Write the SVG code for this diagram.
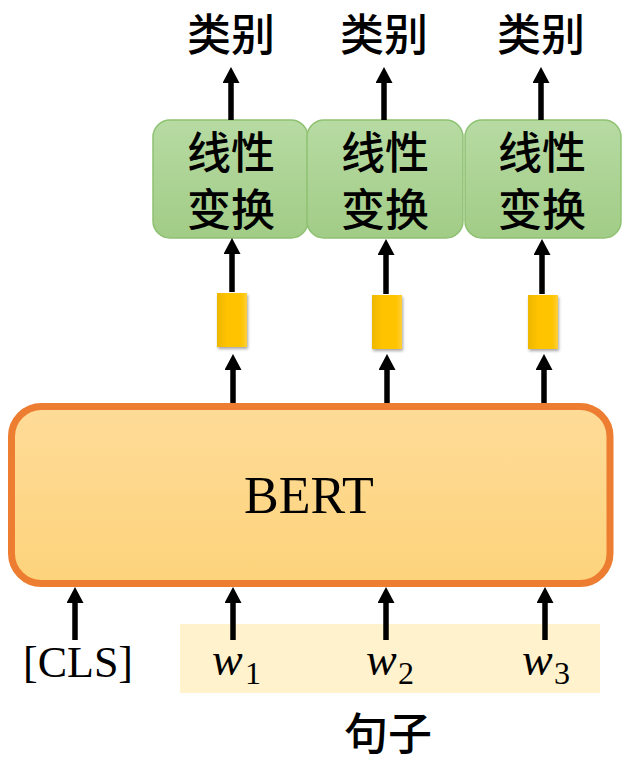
<svg xmlns="http://www.w3.org/2000/svg" width="624" height="765" viewBox="0 0 624 765">
<defs>
<linearGradient id="gBert" x1="0" y1="0" x2="0" y2="1"><stop offset="0" stop-color="#FEDB98"/><stop offset="1" stop-color="#FDD37B"/></linearGradient>
<linearGradient id="gGreen" x1="0" y1="0" x2="0" y2="1"><stop offset="0" stop-color="#B7DBA3"/><stop offset="1" stop-color="#A1CC86"/></linearGradient>
<linearGradient id="gYel" x1="0" y1="0" x2="1" y2="0"><stop offset="0" stop-color="#EDB800"/><stop offset="0.35" stop-color="#FFC300"/><stop offset="0.8" stop-color="#FFC400"/><stop offset="1" stop-color="#FFCF3A"/></linearGradient>
<filter id="sh" x="-30%" y="-20%" width="160%" height="140%"><feDropShadow dx="1" dy="2" stdDeviation="1.5" flood-color="#000" flood-opacity="0.35"/></filter>
<marker id="ah" viewBox="0 -8.5 16 17" refX="2" refY="0" markerWidth="16" markerHeight="17" markerUnits="userSpaceOnUse" orient="auto"><path d="M0,-8.5 L16,0 L0,8.5 z" fill="#000"/></marker>
</defs>
<style>
.cjk{font-family:"Noto Sans CJK SC","Noto Sans CJK JP",sans-serif;font-size:44px;font-weight:500;fill:#000;text-anchor:middle}
.ser{font-family:"Liberation Serif","Times New Roman",serif;fill:#000}
.green{fill:url(#gGreen);stroke:#8EC171;stroke-width:1.5}
.yel{fill:url(#gYel);filter:url(#sh)}
.arr{stroke:#000;stroke-width:5.5;fill:none;marker-end:url(#ah)}
</style>
<rect id="sentence-bg" x="180" y="624" width="420" height="69" fill="#FFF2CC"/>
<g id="bert"><rect x="11.5" y="406.5" width="598.5" height="177" rx="30" ry="30" fill="url(#gBert)" stroke="#ED7D31" stroke-width="7"/><text class="ser" x="309" y="513" font-size="52" text-anchor="middle">BERT</text></g>
<g id="linear1"><rect class="green" x="153" y="120" width="155" height="118" rx="17"/><text class="cjk"><tspan x="231" y="169">线性</tspan><tspan x="231" y="226">变换</tspan></text></g>
<g id="linear2"><rect class="green" x="307" y="120" width="156" height="118" rx="17"/><text class="cjk"><tspan x="385" y="169">线性</tspan><tspan x="385" y="226">变换</tspan></text></g>
<g id="linear3"><rect class="green" x="465" y="120" width="156" height="118" rx="17"/><text class="cjk"><tspan x="542" y="169">线性</tspan><tspan x="542" y="226">变换</tspan></text></g>
<g id="vec1"><rect class="yel" x="217" y="293" width="30" height="54"/></g>
<g id="vec2"><rect class="yel" x="372" y="295" width="30" height="54"/></g>
<g id="vec3"><rect class="yel" x="528" y="295" width="30" height="54"/></g>
<g id="label1"><text class="cjk" x="231" y="51">类别</text></g>
<g id="label2"><text class="cjk" x="384" y="51">类别</text></g>
<g id="label3"><text class="cjk" x="541" y="51">类别</text></g>
<g id="cls"><text class="ser" x="78" y="677" font-size="44" text-anchor="middle">[CLS]</text></g>
<g id="w1"><text class="ser" x="212" y="675" font-size="46" font-style="italic">w</text><text class="ser" x="245" y="684" font-size="32">1</text></g>
<g id="w2"><text class="ser" x="366" y="675" font-size="46" font-style="italic">w</text><text class="ser" x="398" y="684" font-size="32">2</text></g>
<g id="w3"><text class="ser" x="522" y="675" font-size="46" font-style="italic">w</text><text class="ser" x="554" y="684" font-size="32">3</text></g>
<g id="sentence-label"><text class="cjk" x="388" y="750">句子</text></g>
<g id="connectors">
<line class="arr" x1="231" y1="120" x2="231" y2="81"/>
<line class="arr" x1="384" y1="120" x2="384" y2="81"/>
<line class="arr" x1="541" y1="120" x2="541" y2="81"/>
<line class="arr" x1="232" y1="292" x2="232" y2="252"/>
<line class="arr" x1="386" y1="294" x2="386" y2="253"/>
<line class="arr" x1="542" y1="294" x2="542" y2="253"/>
<line class="arr" x1="233" y1="403" x2="233" y2="368"/>
<line class="arr" x1="387" y1="403" x2="387" y2="368"/>
<line class="arr" x1="544" y1="403" x2="544" y2="368"/>
<line class="arr" x1="75" y1="640" x2="75" y2="601"/>
<line class="arr" x1="233" y1="640" x2="233" y2="601"/>
<line class="arr" x1="386" y1="640" x2="386" y2="601"/>
<line class="arr" x1="545" y1="640" x2="545" y2="601"/>
</g>
</svg>
